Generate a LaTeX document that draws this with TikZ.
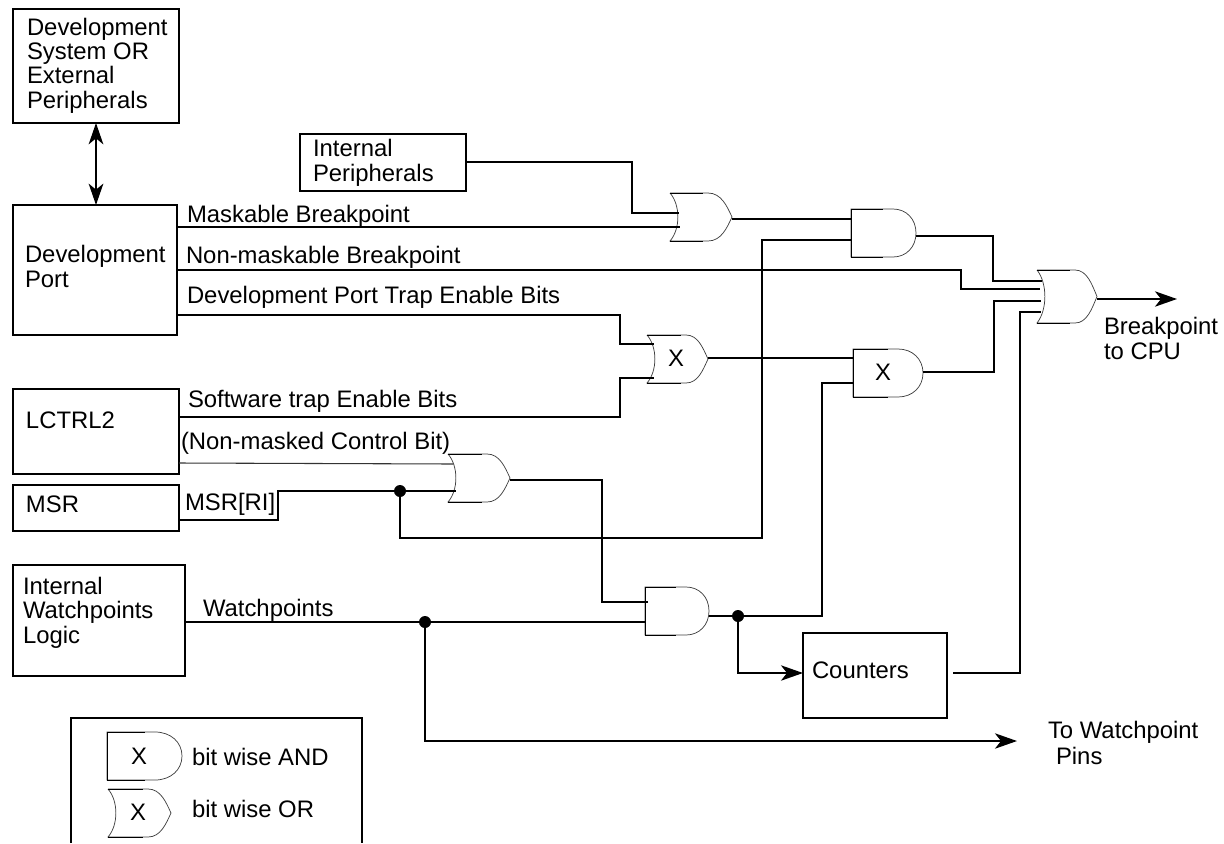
\documentclass[tikz,border=0pt]{standalone}
\usepackage{fontspec}
\setmainfont{Liberation Sans}
\usetikzlibrary{arrows.meta,fit}
\tikzset{
  x=0.75pt,y=-0.75pt,
  boxnode/.style={draw=black,line width=1.5pt,inner sep=0pt,outer sep=0pt,rectangle},
  gatenode/.style={inner sep=0pt,outer sep=0pt,rectangle},
  gateline/.style={draw=black!75,line width=0.55pt},
  wire/.style={draw=black,line width=1.5pt},
  thinwire/.style={draw=black!80,line width=0.8pt},
  head/.style={-{Stealth[length=16.5pt,width=11.5pt,inset=4.5pt]}},
  dhead/.style={{Stealth[length=16pt,width=11pt,inset=4.5pt]}-{Stealth[length=16pt,width=11pt,inset=4.5pt]}},
  txt/.style={font=\fontsize{17.9}{18.2}\selectfont,inner sep=0pt,outer sep=0pt,anchor=base west,align=left},
  dot/.style={circle,fill=black,draw=none,inner sep=0pt,minimum size=9pt},
}
% name, x1, y1, x2, y2, flat x
\newcommand{\andgate}[6]{%
  \pgfmathsetmacro{\gm}{(#3+#5)/2}%
  \pgfmathsetmacro{\ca}{#6+0.58*(#4-#6)}%
  \pgfmathsetmacro{\cb}{\gm-0.58*(#5-#3)/2}%
  \pgfmathsetmacro{\cc}{\gm+0.58*(#5-#3)/2}%
  \node[gatenode,fit={(#2,#3) (#4,#5)}] (#1) {};
  \draw[gateline] (#2,#3) -- (#6,#3) .. controls (\ca,#3) and (#4,\cb) .. (#4,\gm)
    .. controls (#4,\cc) and (\ca,#5) .. (#6,#5) -- (#2,#5) -- cycle;
  \draw[draw=black,line width=0.7pt] (#2,#3) -- (#6-10,#3) (#2,#5) -- (#6-10,#5) (#2,#3) -- (#2,#5);
}
\newcommand{\orgate}[6]{%
  \pgfmathsetmacro{\gm}{(#3+#5)/2}%
  \pgfmathsetmacro{\ca}{#6+0.55*(#4-#6)}%
  \pgfmathsetmacro{\cb}{\gm-0.45*(#5-#3)/2}%
  \pgfmathsetmacro{\cc}{\gm+0.45*(#5-#3)/2}%
  \pgfmathsetmacro{\ci}{#2+10.5}%
  \pgfmathsetmacro{\cj}{#3+0.25*(#5-#3)}%
  \pgfmathsetmacro{\ck}{#3+0.75*(#5-#3)}%
  \node[gatenode,fit={(#2,#3) (#4,#5)}] (#1) {};
  \draw[gateline] (#2,#3) -- (#6,#3) .. controls (\ca,#3) and (#4-5,\cb) .. (#4,\gm)
    .. controls (#4-5,\cc) and (\ca,#5) .. (#6,#5) -- (#2,#5)
    .. controls (\ci,\ck) and (\ci,\cj) .. (#2,#3);
  \draw[draw=black,line width=0.7pt] (#2,#3) -- (#6-5,#3) (#2,#5) -- (#6-5,#5);
}
\begin{document}
\begin{tikzpicture}
\useasboundingbox (0,0) rectangle (1224,843);
% boxes
\node[boxnode,fit={(13,9) (179,123)}] (sys) {};
\node[boxnode,fit={(13,205) (177,335)}] (dev) {};
\node[boxnode,fit={(13,389) (179,474)}] (lctrl) {};
\node[boxnode,fit={(13,485) (179,531)}] (msr) {};
\node[boxnode,fit={(13,565) (185,676)}] (iwl) {};
\node[boxnode,fit={(300,134) (466,191)}] (ip) {};
\node[boxnode,fit={(803,633) (947,718)}] (cnt) {};
% box texts (anchor is the baseline of the last line)
\node[txt] (tsys) at (27,108) {Development\\System OR\\External\\Peripherals};
\node[txt] (tdev) at (25,287) {Development\\Port};
\node[txt] (tlc) at (26,428) {LCTRL2};
\node[txt] (tmsr) at (26,512) {MSR};
\node[txt] (tiwl) at (23,643) {Internal\\Watchpoints\\Logic};
\node[txt] (tip) at (313,181) {Internal\\Peripherals};
\node[txt] (tcnt) at (812,678) {Counters};
% wire labels
\node[txt] (l1) at (187,222) {Maskable Breakpoint};
\node[txt] (l2) at (186,263) {Non-maskable Breakpoint};
\node[txt] (l3) at (187,303) {Development Port Trap Enable Bits};
\node[txt] (l4) at (188,407) {Software trap Enable Bits};
\node[txt] (l5) at (181,449) {(Non-masked Control Bit)};
\node[txt] (l6) at (185,510) {MSR[RI]};
\node[txt] (l7) at (203,616) {Watchpoints};
\node[txt] (l8) at (1104,359) {Breakpoint\\to CPU};
\node[txt] (l9) at (1048,738) {To Watchpoint};
\node[txt] (l10) at (1056,764) {Pins};
% gates
\orgate{or1}{670}{193}{732}{241}{708}
\andgate{and1}{851}{209}{916}{257}{893}
\orgate{xorg}{647}{335}{708}{383}{686}
\andgate{and2}{853}{349}{923}{397}{898}
\orgate{or2}{448}{454}{510}{502}{487}
\andgate{and3}{645}{587}{709}{635}{686}
\orgate{or3}{1037}{270}{1097}{323}{1075}
\node[txt] (xa) at (668,366) {X};
\node[txt] (xb) at (875,380) {X};
% junctions and ports
\coordinate (or1a) at (679,213);
\coordinate (or1b) at (680,227);
\coordinate (xora) at (654,344);
\coordinate (xorb) at (654,378);
\coordinate (or2a) at (453,464);
\coordinate (or2b) at (456,491);
\coordinate (and3a) at (648,602);
\coordinate (or3a) at (1042,281);
\coordinate (or3b) at (1040,289);
\coordinate (or3c) at (1041,301);
\coordinate (or3d) at (1041,312);
\coordinate (jmsr) at (400,491);
\coordinate (jwp) at (425,622);
\coordinate (jout) at (738,616);
\coordinate (endb) at (1177,299);
\coordinate (endw) at (1017,741);
% wires
\draw[dhead,wire] (sys.south -| 96,0) -- (dev.north -| 96,0);
\draw[wire] (ip.east |- 0,162) -| (632,213) -- (or1a);
\draw[wire] (dev.east |- or1b) -- (or1b);
\draw[wire] (or1.east |- 0,219) -- (and1.west |- 0,219);
\draw[wire] (and1.east |- 0,236) -| (993,281) -- (or3a);
\draw[wire] (dev.east |- 0,270) -| (961,289) -- (or3b);
\draw[wire] (dev.east |- 0,315) -| (620,344) -- (xora);
\draw[wire] (lctrl.east |- 0,417) -| (620,378) -- (xorb);
\draw[wire] (xorg.east |- 0,358) -- (and2.west |- 0,358);
\draw[wire] (and2.east |- 0,372) -| (994,301) -- (or3c);
\draw[thinwire] (lctrl.east |- 0,463) -- (or2a);
\draw[wire] (msr.east |- 0,520) -| (278,491) -- (or2b);
\draw[wire] (jmsr) |- (762,538) |- (and1.west |- 0,240);
\draw[wire] (or2.east |- 0,480) -| (602,602) -- (and3a);
\draw[wire] (iwl.east |- 0,622) -- (and3.west |- 0,622);
\draw[wire] (and3.east |- jout) -- (jout) -- (822,616) |- (and2.west |- 0,383);
\draw[wire,head] (jout) |- (cnt.west |- 0,673);
\draw[wire] (953,673) -| (or3d -| 1020,0) -- (or3d);
\draw[wire,head] (or3.east |- endb) -- (endb);
\draw[wire,head] (jwp) |- (endw);
\node[dot] (d1) at (jmsr) {};
\node[dot] (d2) at (jwp) {};
\node[dot] (d3) at (jout) {};
% legend
\draw[boxnode] (71,843) |- (362,718) -- (362,843);
\andgate{lega}{107}{732}{182}{780}{155}
\orgate{lego}{108}{789}{171}{837}{148}
\node[txt] (xc) at (131,764) {X};
\node[txt] (xd) at (130,820) {X};
\node[txt] (la) at (192,765) {bit wise AND};
\node[txt] (lb) at (192,817) {bit wise OR};
\end{tikzpicture}
\end{document}
